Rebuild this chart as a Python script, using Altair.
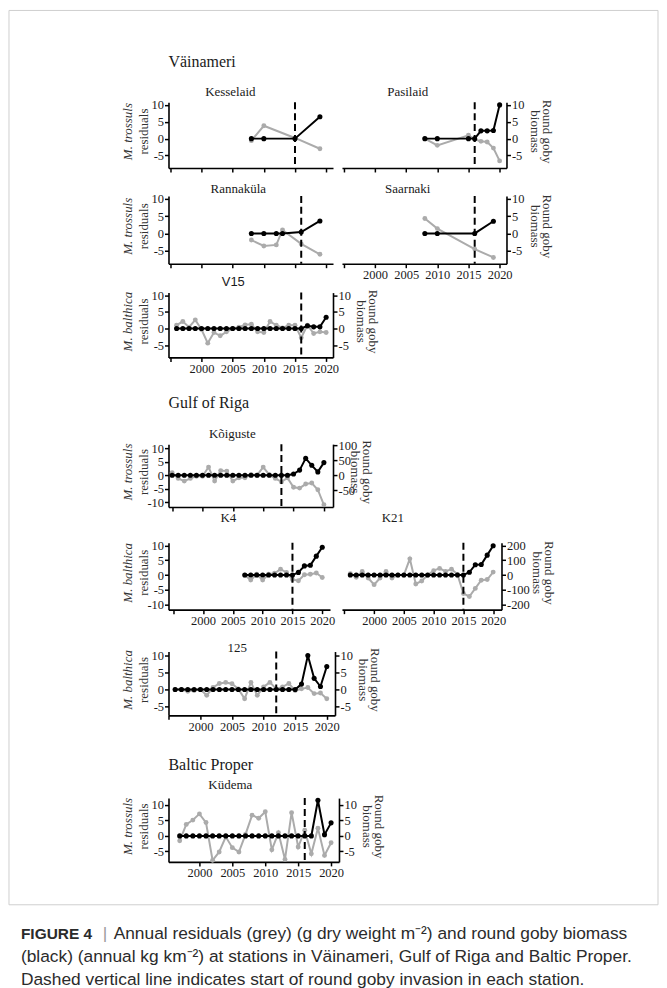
import altair as alt
import pandas as pd

SERIF = "Liberation Serif"
SANS = "Liberation Sans"
GREY = "#ababab"
INK = "#1a1a1a"

# ---------------- data ----------------
kes_years = [2008, 2010, 2015, 2019]
kes_res = [-0.6, 3.8, 0.2, -3.0]
kes_gob = [0, 0, 0, 6.5]

pas_years = [2008, 2010, 2015, 2016, 2017, 2018, 2019, 2020]
pas_res = [0.0, -2.0, 1.0, -0.2, -0.8, -1.0, -2.8, -6.6]
pas_gob = [0, 0, 0, 0, 2.3, 2.3, 2.4, 10.0]

ran_years = [2008, 2010, 2012, 2013, 2016, 2019]
ran_res = [-1.9, -3.6, -3.3, 1.0, -3.0, -6.0]
ran_gob = [0, 0, 0, 0, 0.4, 3.6]

saa_years = [2008, 2010, 2016, 2019]
saa_res = [4.3, 1.4, -4.5, -6.9]
saa_gob = [0, 0, 0, 3.5]

v15_years = [1996, 1997, 1998, 1999, 2000, 2001, 2002, 2003, 2004, 2005, 2006, 2007, 2008,
             2009, 2010, 2011, 2012, 2013, 2014, 2015, 2016, 2017, 2018, 2019, 2020]
v15_res = [1.0, 2.1, 0.4, 2.6, -0.3, -4.4, -1.2, -2.2, -1.0, 0.0, 0.4, 1.1, 1.3,
           -1.0, -1.2, 2.1, 1.0, 0.2, 1.0, 1.0, -2.8, 1.0, -1.5, -1.0, -1.2]
v15_gob = [0, 0, 0, 0, 0, 0, 0, 0, 0, 0, 0, 0, 0,
           0, 0, 0, 0, 0, 0, 0, 0, 0.8, 0.5, 0.5, 3.4]

koi_years = [1995, 1996, 1997, 1998, 1999, 2000, 2001, 2002, 2003, 2004, 2005, 2006, 2007,
             2008, 2009, 2010, 2011, 2012, 2013, 2014, 2015, 2016, 2017, 2018, 2019, 2020]
koi_res = [0.9, -1.2, -2.2, -1.2, -0.4, -0.4, 3.0, -2.2, 1.7, 1.5, -2.2, -1.0, -1.0,
           0.2, 0.0, 3.0, 0.2, -1.2, -2.5, -1.0, -4.5, -4.8, -3.3, -2.9, -5.4, -11.0]
koi_gob = [0, 0, 0, 0, 0, 0, 0, 0, 0, 0, 0, 0, 0,
           0, 0, 0, 0, 0, 0, 0, 4, 17, 56, 33, 11, 42]

k4_years = [2007, 2008, 2009, 2010, 2011, 2012, 2013, 2014, 2015, 2016, 2017, 2018, 2019, 2020]
k4_res = [0.0, -1.7, 0.3, -1.7, 0.3, 0.6, 2.0, 0.9, -1.5, -1.9, 0.1, 0.3, 0.7, -0.8]
k4_gob = [0, 0, 0, 0, 0, 0, 0, 0, 0, 0.9, 3.1, 3.3, 6.4, 9.4]

k21_years = [1996, 1997, 1998, 1999, 2000, 2001, 2002, 2003, 2004, 2005, 2006, 2007, 2008,
             2009, 2010, 2011, 2012, 2013, 2014, 2015, 2016, 2017, 2018, 2019, 2020]
k21_res = [10, -15, 25, -20, -65, -20, 25, -20, 0, 0, 110, -60, -40,
           0, 30, 45, 25, 40, 5, -125, -145, -90, -35, -30, 20]
k21_gob = [0, 0, 0, 0, 0, 0, 0, 0, 0, 0, 0, 0, 0,
           0, 0, 0, 0, 0, 0, 0, 19, 70, 72, 135, 198]

s125_years = [1996, 1997, 1998, 1999, 2000, 2001, 2002, 2003, 2004, 2005, 2006, 2007, 2008,
              2009, 2010, 2011, 2012, 2013, 2014, 2015, 2016, 2017, 2018, 2019, 2020]
s125_res = [0.0, 0.0, -0.5, -0.3, 0.0, -1.7, 0.6, 1.8, 2.1, 1.7, 0.2, -2.7, 2.1,
            -1.7, 0.8, 2.1, 0.2, 0.8, 1.8, -0.3, 0.2, 0.6, -1.2, -1.0, -2.7]
s125_gob = [0, 0, 0, 0, 0, 0, 0, 0, 0, 0, 0, 0, 0,
            0, 0, 0, 0, 0, 0, 0, 1.6, 10.0, 3.3, 0.9, 6.8]

kud_years = [1997, 1998, 1999, 2000, 2001, 2002, 2003, 2004, 2005, 2006, 2007, 2008,
             2009, 2010, 2011, 2012, 2013, 2014, 2015, 2016, 2017, 2018, 2019, 2020]
kud_res = [-1.6, 3.7, 5.1, 7.1, 4.3, -7.9, -5.2, -0.3, -3.8, -5.2, 0.5, 6.7,
           5.7, 7.8, -4.5, 1.0, -7.6, 7.5, -3.6, 1.8, -5.8, 2.5, -6.3, -2.2]
kud_gob = [0, 0, 0, 0, 0, 0, 0, 0, 0, 0, 0, 0,
           0, 0, 0, 0, 0, 0, 0, 0, 0, 11.5, 0.4, 4.2]

invasion = {"Kesselaid": 2015, "Pasilaid": 2016, "Rannaküla": 2016, "Saarnaki": 2016,
            "V15": 2016, "Kõiguste": 2013, "K4": 2015, "K21": 2015, "125": 2012, "Küdema": 2016}

x_ticks = [1995, 2000, 2005, 2010, 2015, 2020]
ticks_10 = [-5, 0, 5, 10]
ticks_pm10 = [-10, -5, 0, 5, 10]
ticks_koi_r = [-50, 0, 50, 100]
ticks_k21_r = [-200, -100, 0, 100, 200]

regions = ["Väinameri", "Gulf of Riga", "Baltic Proper"]
species_t = "M. trossuls"
species_b = "M. balthica"
resid_title = "residuals"
goby_title = ["Round goby", "biomass"]

caption_head = "FIGURE 4"
caption_bar = "|"
caption_lines = [
    "Annual residuals (grey) (g dry weight m\u207b\u00b2) and round goby biomass",
    "(black) (annual kg km\u207b\u00b2) at stations in Väinameri, Gulf of Riga and Baltic Proper.",
    "Dashed vertical line indicates start of round goby invasion in each station.",
]

# ---------------- helpers ----------------
LBL = "'' + datum.value"
AX = dict(labelFont=SERIF, labelFontSize=12.5, labelColor=INK, labelPadding=1, grid=False,
          titleFont=SERIF, titleFontSize=13, titleFontWeight="normal", titleColor="#333333")


def panel(name, years, res, gob, w, h, xdom, yl, yr, left_ticks=None, right_ticks=None,
          species=None, xlabels=True, rtx=40, lt_dy=-4):
    df = pd.DataFrame({"year": years, "resid": res, "goby": gob})
    xaxis = alt.Axis(values=x_ticks, labels=xlabels, title=None,
                     labelExpr="datum.value == 1995 ? '' : '' + datum.value", **AX)
    X = alt.X("year:Q", scale=alt.Scale(domain=xdom, nice=False, zero=False), axis=xaxis)

    if left_ticks is not None:
        laxis = alt.Axis(orient="left", values=left_ticks, labelExpr=LBL,
                         title=resid_title, titleX=-25, titleY=h / 2 + lt_dy, titleAngle=270,
                         titleAlign="center", titleBaseline="middle", **AX)
    else:
        laxis = None
    if right_ticks is not None:
        raxis = alt.Axis(orient="right", values=right_ticks, labelExpr=LBL,
                         title=goby_title, titleX=rtx, titleY=h / 2 - 4, titleAngle=90,
                         titleAlign="center", titleBaseline="middle", titleLineHeight=12, **AX)
    else:
        raxis = None

    grey = alt.Chart(df).mark_line(
        color=GREY, strokeWidth=2,
        point=alt.OverlayMarkDef(color=GREY, size=24, filled=True, opacity=1)
    ).encode(x=X, y=alt.Y("resid:Q", scale=alt.Scale(domain=yl, nice=False, zero=False), axis=laxis))

    black = alt.Chart(df).mark_line(
        color="black", strokeWidth=2,
        point=alt.OverlayMarkDef(color="black", size=26, filled=True, opacity=1)
    ).encode(x=X, y=alt.Y("goby:Q", scale=alt.Scale(domain=yr, nice=False, zero=False), axis=raxis))

    rule = alt.Chart(pd.DataFrame({"year": [invasion[name]]})).mark_rule(
        color="black", strokeWidth=2, strokeDash=[7, 4]
    ).encode(x=X)

    layers = [grey, rule, black]
    if species is not None:
        sp = alt.Chart(df).mark_point(opacity=0).encode(
            x=X,
            y=alt.Y("resid:Q", scale=alt.Scale(domain=yl, nice=False, zero=False),
                    axis=alt.Axis(orient="left", domain=False, ticks=False, labels=False,
                                  title=species, titleFontStyle="italic", titleX=-41,
                                  titleY=h / 2 + lt_dy, titleAngle=270, titleAlign="center",
                                  titleBaseline="middle", **AX)))
        layers.append(sp)
    return alt.layer(*layers).resolve_scale(y="independent").properties(width=w, height=h)


def spacer(w, h, texts=()):
    items = list(texts) if texts else [dict(t="", x=0, y=0)]
    layers = []
    for it in items:
        d = pd.DataFrame({"t": [it["t"]]})
        layers.append(
            alt.Chart(d).mark_text(
                align=it.get("align", "center"), baseline="middle",
                font=it.get("font", SERIF), fontSize=it.get("size", 13),
                fontWeight=it.get("weight", "normal"), color=it.get("color", INK)
            ).encode(text="t:N", x=alt.value(it["x"]), y=alt.value(it["y"]))
        )
    return alt.layer(*layers).properties(width=w, height=h)


def caption(w, h):
    frame = alt.Chart(pd.DataFrame({"a": [0]})).mark_rect(
        filled=False, color="#cfcfcf", strokeWidth=1
    ).encode(x=alt.value(-160), x2=alt.value(491), y=alt.value(-897), y2=alt.value(0))
    parts = [frame]
    txt = [
        dict(t=caption_head, x=-148, y=29, weight="bold", size=15.5),
        dict(t=caption_bar, x=-66, y=29, color="#9a9a9a"),
        dict(t=caption_lines[0], x=-55, y=29),
        dict(t=caption_lines[1], x=-148, y=52),
        dict(t=caption_lines[2], x=-148, y=75),
    ]
    for it in txt:
        d = pd.DataFrame({"t": [it["t"]]})
        parts.append(
            alt.Chart(d).mark_text(
                align="left", baseline="middle", font=SANS, fontSize=it.get("size", 17.4),
                fontWeight=it.get("weight", "normal"), color=it.get("color", "#2b2b2b")
            ).encode(text="t:N", x=alt.value(it["x"]), y=alt.value(it["y"]))
        )
    return alt.layer(*parts).properties(width=w, height=h)


# ---------------- panels ----------------
STD = [1994.7, 2021.1]
Y10 = [-8.7, 10.8]

p_kes = panel("Kesselaid", kes_years, kes_res, kes_gob, 165, 66, STD, Y10, Y10,
              left_ticks=ticks_10, species=species_t, xlabels=False)
p_pas = panel("Pasilaid", pas_years, pas_res, pas_gob, 165, 66, STD, Y10, Y10,
              right_ticks=ticks_10, xlabels=False)
p_ran = panel("Rannaküla", ran_years, ran_res, ran_gob, 165, 68, STD, Y10, Y10,
              left_ticks=ticks_10, species=species_t, xlabels=False)
p_saa = panel("Saarnaki", saa_years, saa_res, saa_gob, 165, 68, STD, Y10, Y10,
              right_ticks=ticks_10, xlabels=True)
p_v15 = panel("V15", v15_years, v15_res, v15_gob, 165, 65, STD, Y10, Y10,
              left_ticks=ticks_10, right_ticks=ticks_10, species=species_b)
p_koi = panel("Kõiguste", koi_years, koi_res, koi_gob, 165, 63, [1994.4, 2021.5],
              [-11.8, 11.5], [-106, 103.5], left_ticks=ticks_pm10, right_ticks=ticks_koi_r,
              species=species_t, xlabels=False, rtx=34)
p_k4 = panel("K4", k4_years, k4_res, k4_gob, 162, 67, [1994.2, 2021.3],
             [-11.7, 10.9], [-11.7, 10.9], left_ticks=ticks_pm10, species=species_b)
p_k21 = panel("K21", k21_years, k21_res, k21_gob, 160, 67, [1994.6, 2021.4],
              [-234, 218], [-234, 218], right_ticks=ticks_k21_r, rtx=47)
p_125 = panel("125", s125_years, s125_res, s125_gob, 167, 64, [1994.95, 2021.3],
              [-7.6, 11.2], [-7.6, 11.2], left_ticks=ticks_10, right_ticks=ticks_10,
              species=species_b)
p_kud = panel("Küdema", kud_years, kud_res, kud_gob, 171, 64, [1995.3, 2021.2],
              [-8.4, 12.2], [-8.4, 12.2], left_ticks=ticks_10, right_ticks=ticks_10,
              species=species_t)

LW = 171  # widest left-column panel
RW = 165
col_gap = 342 - 168 - LW

H = dict(size=16, align="left", x=0)
cells = [
    spacer(RW, 60, [dict(t=regions[0], y=20, **H), dict(t="Kesselaid", x=62, y=50)]),
    spacer(RW, 60, [dict(t="Pasilaid", x=66, y=50)]),
    p_kes, p_pas,
    spacer(RW, 28, [dict(t="Rannaküla", x=70, y=21)]),
    spacer(RW, 28, [dict(t="Saarnaki", x=66, y=21)]),
    p_ran, p_saa,
    spacer(RW, 29, [dict(t="V15", x=65, y=18, font=SANS)]),
    spacer(RW, 29),
    p_v15, spacer(RW, 65),
    spacer(RW, 87, [dict(t=regions[1], y=46, **H), dict(t="Kõiguste", x=64, y=77)]),
    spacer(RW, 87),
    p_koi, spacer(RW, 63),
    spacer(RW, 36, [dict(t="K4", x=60, y=11)]),
    spacer(RW, 36, [dict(t="K21", x=51, y=11)]),
    p_k4, p_k21,
    spacer(RW, 42, [dict(t="125", x=69, y=38)]),
    spacer(RW, 42),
    p_125, spacer(RW, 64),
    spacer(RW, 83, [dict(t=regions[2], y=50, **H), dict(t="Küdema", x=62, y=70)]),
    spacer(RW, 83),
    p_kud, spacer(RW, 64),
    spacer(RW, 43), spacer(RW, 43),
    caption(RW, 80), spacer(RW, 80),
]

chart = alt.concat(
    *cells, columns=2, spacing=alt.RowColnumber(row=0, column=col_gap),
    bounds="flush", align="each"
).properties(
    padding={"left": 8, "top": 8, "right": 8, "bottom": 2},
    background="white",
).configure_view(stroke=None).configure_axis(
    domainColor="black", domainWidth=1.6, tickColor="black", tickWidth=1.5, tickSize=4,
)

chart.save("out.html", embed_options={"renderer": "svg", "actions": False})
